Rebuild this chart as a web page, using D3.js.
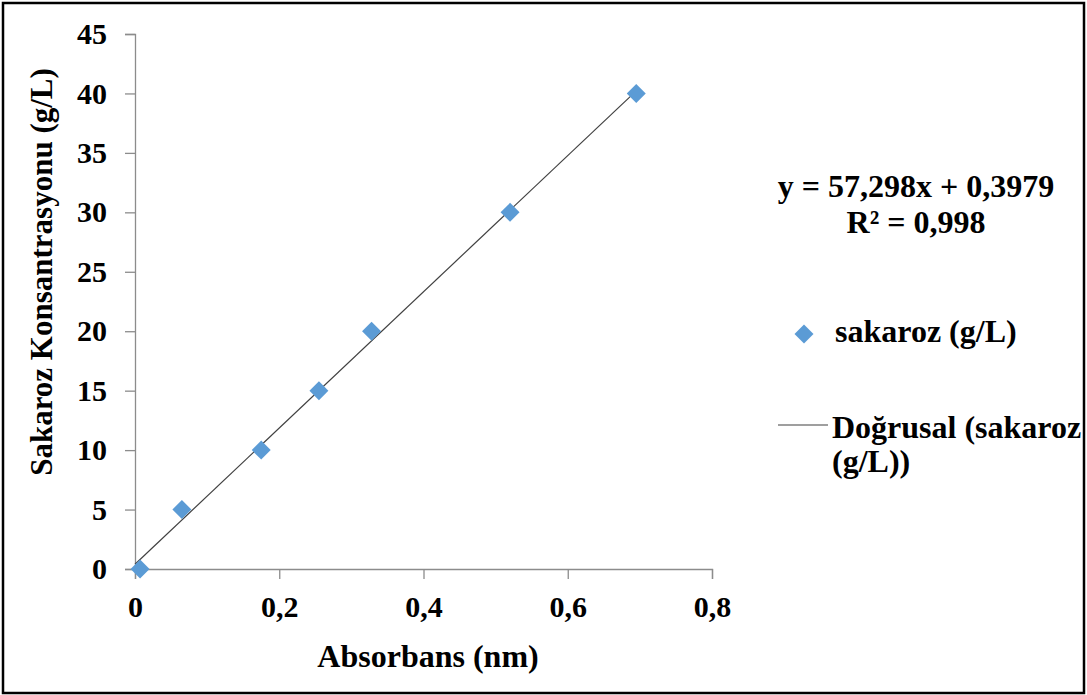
<!DOCTYPE html>
<html>
<head>
<meta charset="utf-8">
<script src="https://cdn.jsdelivr.net/npm/d3@7"></script>
<style>
  body { margin: 0; background: #fff; }
  text { font-family: "Liberation Serif", "Times New Roman", serif; font-weight: bold; fill: #000; }
</style>
</head>
<body>
<svg id="chart" width="1087" height="695"></svg>
<script>
// absorbance readings vs sucrose concentration
var absorbans = [0.007, 0.065, 0.175, 0.255, 0.328, 0.52, 0.695];
var sakaroz = [0, 5, 10, 15, 20, 30, 40];
var xTicks = [0, 0.2, 0.4, 0.6, 0.8];
var yTicks = [0, 5, 10, 15, 20, 25, 30, 35, 40, 45];
var slope = 57.298, intercept = 0.3979, r2 = 0.998;

var svg = d3.select("#chart");

// outer frame
svg.append("rect")
    .attr("x", 3).attr("y", 3)
    .attr("width", 1081).attr("height", 690)
    .attr("fill", "none")
    .attr("stroke", "#000")
    .attr("stroke-width", 2.5);

var x = d3.scaleLinear().domain([0, 0.8]).range([135, 712]);
var y = d3.scaleLinear().domain([0, 45]).range([569, 34]);

var fmt = function(d) { return String(d).replace(".", ","); };

var xAxis = svg.append("g")
    .attr("transform", "translate(0," + y(0) + ")")
    .call(d3.axisBottom(x).tickValues(xTicks).tickFormat(fmt).tickSize(10).tickPadding(17));

var yAxis = svg.append("g")
    .attr("transform", "translate(" + x(0) + ",0)")
    .call(d3.axisLeft(y).tickValues(yTicks).tickSize(10).tickPadding(18));

[xAxis, yAxis].forEach(function(a) {
  a.select(".domain").attr("stroke", "#8c8c8c").attr("stroke-width", 1.3);
  a.selectAll(".tick line").attr("stroke", "#8c8c8c").attr("stroke-width", 1.3);
  a.selectAll(".tick text")
      .style("font-family", "Liberation Serif")
      .style("font-weight", "bold")
      .style("font-size", "30px")
      .attr("fill", "#000");
});

// trend line
var xMax = d3.max(absorbans);
svg.append("line")
    .attr("x1", x(0)).attr("y1", y(intercept))
    .attr("x2", x(xMax)).attr("y2", y(slope * xMax + intercept))
    .attr("stroke", "#404040")
    .attr("stroke-width", 1.2);

var diamond = d3.symbol().type(d3.symbolSquare).size(180);

svg.selectAll("path.pt")
    .data(absorbans)
  .enter().append("path")
    .attr("class", "pt")
    .attr("d", diamond)
    .attr("transform", function(d, i) {
      return "translate(" + x(d) + "," + y(sakaroz[i]) + ") rotate(45)";
    })
    .attr("fill", "#5b9bd5");

// axis titles
svg.append("text")
    .attr("x", 428).attr("y", 667)
    .attr("text-anchor", "middle")
    .style("font-size", "32px")
    .text("Absorbans (nm)");

svg.append("text")
    .attr("transform", "translate(52,272) rotate(-90)")
    .attr("text-anchor", "middle")
    .style("font-size", "31px")
    .text("Sakaroz Konsantrasyonu (g/L)");

// equation
svg.append("text")
    .attr("x", 916).attr("y", 197)
    .attr("text-anchor", "middle")
    .style("font-size", "32px")
    .text("y = " + fmt(slope) + "x + " + fmt(intercept));

svg.append("text")
    .attr("x", 916).attr("y", 233)
    .attr("text-anchor", "middle")
    .style("font-size", "32px")
    .text("R² = " + fmt(r2));

// legend
svg.append("path")
    .attr("d", diamond)
    .attr("transform", "translate(804,334) rotate(45)")
    .attr("fill", "#5b9bd5");

svg.append("text")
    .attr("x", 835).attr("y", 342)
    .style("font-size", "32px")
    .text("sakaroz (g/L)");

svg.append("line")
    .attr("x1", 778).attr("x2", 828)
    .attr("y1", 425).attr("y2", 425)
    .attr("stroke", "#404040")
    .attr("stroke-width", 1.2);

svg.append("text")
    .attr("x", 832).attr("y", 438)
    .style("font-size", "32px")
    .text("Doğrusal (sakaroz");

svg.append("text")
    .attr("x", 832).attr("y", 472)
    .style("font-size", "32px")
    .text("(g/L))");
</script>
</body>
</html>
